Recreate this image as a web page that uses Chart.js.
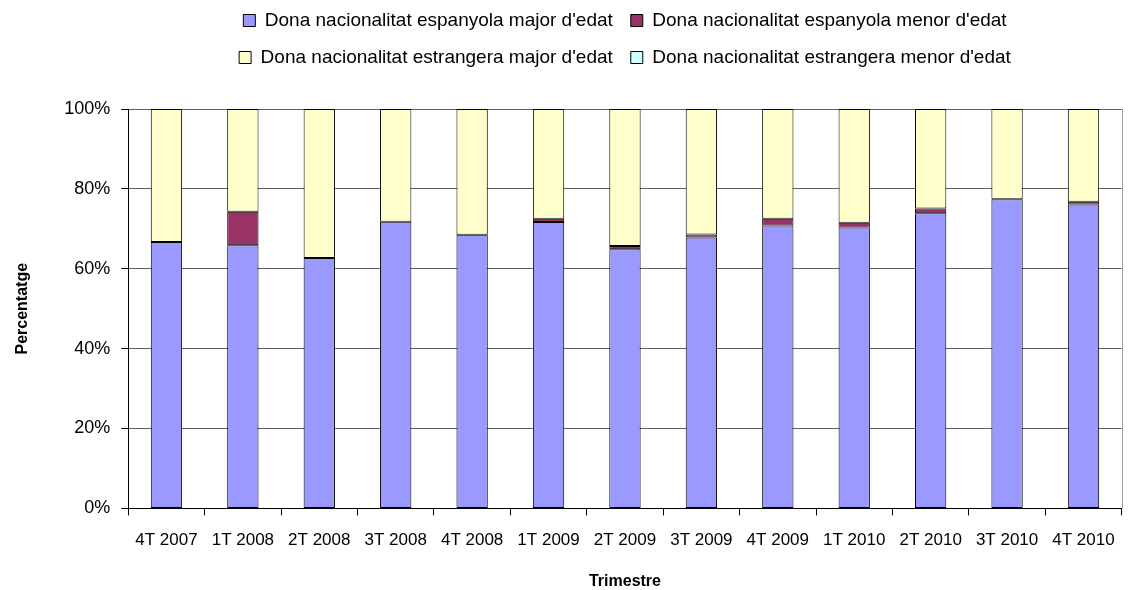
<!DOCTYPE html>
<html>
<head>
<meta charset="utf-8">
<script src="https://cdn.jsdelivr.net/npm/chart.js@4"></script>
<style>
  body { margin: 0; background: #fff; }
  #wrap { width: 1130px; height: 590px; }
</style>
</head>
<body>
<div id="wrap"><canvas id="chart"></canvas></div>
<script>
var trimestres = ["4T 2007", "1T 2008", "2T 2008", "3T 2008", "4T 2008", "1T 2009", "2T 2009", "3T 2009", "4T 2009", "1T 2010", "2T 2010", "3T 2010", "4T 2010"];
var espMajor = [66.7, 65.9, 62.7, 71.8, 68.5, 71.7, 64.9, 67.8, 70.8, 70.3, 73.9, 77.4, 76.1];
var espMenor = [0, 8.4, 0, 0, 0, 0.8, 0.8, 0.8, 1.7, 1.2, 1.2, 0, 0.7];
var estMajor = [33.3, 25.7, 37.3, 28.2, 31.5, 27.5, 34.3, 31.4, 27.5, 28.5, 24.9, 22.6, 23.2];
var estMenor = [0, 0, 0, 0, 0, 0, 0, 0, 0, 0, 0, 0, 0];
var yTicks = [0, 20, 40, 60, 80, 100];

const font = "'Liberation Sans', Arial, sans-serif";

function serie(label, values, color) {
    return {
        label: label,
        data: values,
        backgroundColor: color,
        borderColor: '#000000',
        borderWidth: 1,
        borderSkipped: false,
        barPercentage: 1,
        categoryPercentage: 0.41
    };
}

// thin grey frame on the right of the plot area, like the original
const plotFrame = {
    id: 'plotFrame',
    afterDraw(chart) {
        const a = chart.chartArea, c = chart.ctx;
        c.save();
        c.strokeStyle = '#a0a0a0';
        c.lineWidth = 1;
        c.beginPath();
        c.moveTo(Math.round(a.right) + 0.5, a.top);
        c.lineTo(Math.round(a.right) + 0.5, a.bottom);
        c.stroke();
        c.restore();
    }
};

// leave more room between the legend and the plot
const legendGap = {
    id: 'legendGap',
    beforeInit(chart) {
        const fit = chart.legend.fit;
        chart.legend.fit = function () {
            fit.bind(chart.legend)();
            this.height += 32;
        };
    }
};

var config = {
    type: 'bar',
    data: {
        labels: trimestres,
        datasets: [
            serie("Dona nacionalitat espanyola major d'edat", espMajor, '#9999FF'),
            serie("Dona nacionalitat espanyola menor d'edat", espMenor, '#993366'),
            serie("Dona nacionalitat estrangera major d'edat", estMajor, '#FFFFCC'),
            serie("Dona nacionalitat estrangera menor d'edat", estMenor, '#CCFFFF')
        ]
    },
    options: {
        responsive: true,
        maintainAspectRatio: false,
        animation: false,
        layout: { padding: { top: -7, right: 3, bottom: -2, left: 9 } },
        plugins: {
            legend: {
                position: 'top',
                fullSize: false,
                labels: {
                    color: '#000',
                    font: { family: font, size: 19 },
                    boxWidth: 12,
                    boxHeight: 12,
                    padding: 18
                }
            },
            tooltip: { enabled: false }
        },
        scales: {
            x: {
                stacked: true,
                grid: { display: true, drawOnChartArea: false, offset: true, tickLength: 7, color: '#000' },
                border: { color: '#000' },
                ticks: { color: '#000', font: { family: font, size: 17 }, maxRotation: 0, padding: 15 },
                title: { display: true, text: 'Trimestre', color: '#000', font: { family: font, size: 16, weight: 'bold' }, padding: { top: 6, bottom: 1 } }
            },
            y: {
                stacked: true,
                min: 0,
                max: 100,
                afterBuildTicks(axis) { axis.ticks = yTicks.map(v => ({ value: v })); },
                grid: { color: '#606060', tickColor: '#000', tickLength: 7 },
                border: { color: '#000' },
                ticks: { color: '#000', font: { family: font, size: 18 }, padding: 11, callback: v => v + '%' },
                title: { display: true, text: 'Percentatge', color: '#000', font: { family: font, size: 16, weight: 'bold' }, padding: { bottom: 21 } }
            }
        }
    },
    plugins: [plotFrame, legendGap]
};

var chart = new Chart(document.getElementById('chart'), config);
</script>
</body>
</html>
